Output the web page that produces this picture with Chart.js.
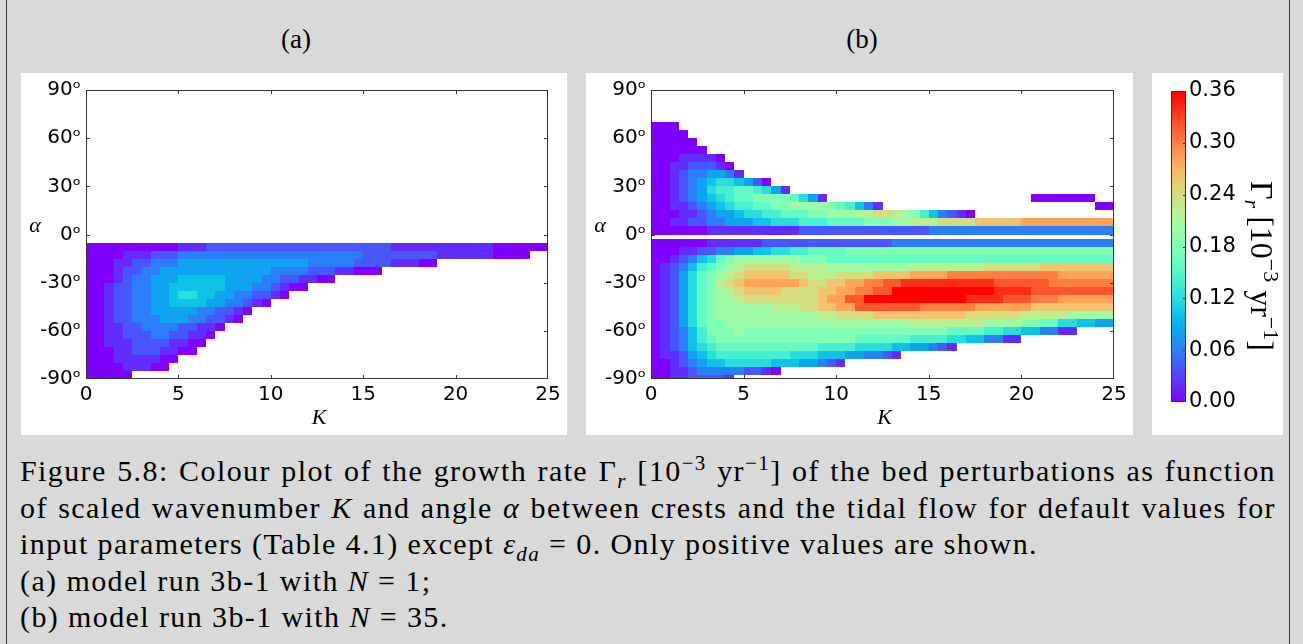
<!DOCTYPE html>
<html>
<head>
<meta charset="utf-8">
<script src="https://cdn.jsdelivr.net/npm/chart.js@4.4.0/dist/chart.umd.min.js"></script>
<style>
  html, body { margin: 0; padding: 0; }
  body { width: 1303px; height: 644px; overflow: hidden; background: #d9d9d9; position: relative; font-family: "Liberation Serif", serif; color: #000; }
  .frame { position: absolute; left: 6px; top: -6px; width: 1282px; height: 670px; border: 1.5px solid #333; }
  .panel { position: absolute; background: #fff; top: 73px; height: 362px; }
  .title { position: absolute; top: 24px; width: 80px; font-size: 27px; line-height: 30px; text-align: center; }
  .caption { position: absolute; left: 20px; top: 453px; width: 1256px; font-size: 30px; line-height: 36.6px; letter-spacing: 1.4px; word-spacing: 0; }
  .caption div { white-space: nowrap; }
  .caption .just { text-align: justify; text-align-last: justify; }
  sub, sup { font-size: 70%; line-height: 0; }
  canvas { position: absolute; top: 0; left: 0; }
</style>
</head>
<body>
<div class="frame"></div>
<div class="title" style="left:256px">(a)</div>
<div class="title" style="left:822px">(b)</div>
<div class="panel" style="left:21px; width:546px"><canvas id="chartA" width="546" height="362"></canvas></div>
<div class="panel" style="left:586px; width:547px"><canvas id="chartB" width="547" height="362"></canvas></div>
<div class="panel" style="left:1152px; width:131px"><canvas id="chartC" width="131" height="362"></canvas></div>
<div class="caption">
  <div class="just">Figure 5.8: Colour plot of the growth rate Γ<sub><i>r</i></sub> [10<sup>−3</sup> yr<sup>−1</sup>] of the bed perturbations as function</div>
  <div class="just">of scaled wavenumber <i>K</i> and angle <i>α</i> between crests and the tidal flow for default values for</div>
  <div>input parameters (Table 4.1) except <i>ε</i><sub><i>da</i></sub> = 0. Only positive values are shown.</div>
  <div>(a) model run 3b-1 with <i>N</i> = 1;</div>
  <div>(b) model run 3b-1 with <i>N</i> = 35.</div>
</div>
<script>
// K column centres (cell width 0.5)
const kCols = [0.25,0.75,1.25,1.75,2.25,2.75,3.25,3.75,4.25,4.75,5.25,5.75,6.25,6.75,7.25,7.75,8.25,8.75,9.25,9.75,
  10.25,10.75,11.25,11.75,12.25,12.75,13.25,13.75,14.25,14.75,15.25,15.75,16.25,16.75,17.25,17.75,18.25,18.75,19.25,19.75,
  20.25,20.75,21.25,21.75,22.25,22.75,23.25,23.75,24.25,24.75];
const kHalf = 0.25;

const xTicks = [0, 5, 10, 15, 20, 25];
const yTicks = [-90, -60, -30, 0, 30, 60, 90];
const cbarTicks = [0, 0.06, 0.12, 0.18, 0.24, 0.30, 0.36];
const vMax = 0.36;
const levelStep = 0.02; // one character = 0.02 (0-9, A-I), '.' = not shown

// row edges in alpha (degrees), top to bottom
const alphaEdgesA = [90,85,80,75,70,65,60,55,50,45,40,35,30,25,20,15,10,5,0,-5,-10,-15,-20,-25,-30,-35,-40,-45,-50,-55,-60,-65,-70,-75,-80,-85,-90];
const alphaEdgesB = [90,85,80,75,70,65,60,55,50,45,40,35,30,25,20,15,10,5,0,-2.5,-7.5,-12.5,-17.5,-22.5,-27.5,-32.5,-37.5,-42.5,-47.5,-52.5,-57.5,-62.5,-67.5,-72.5,-77.5,-82.5,-87.5,-90];

// growth rate, panel (a) N = 1, one string per alpha row
const rowsA = [
  "", "", "", "", "", "", "", "", "", "", "", "", "", "", "", "", "", "", "",
  "00000 00000 11122 22222 22222 22222 22211 11111 11110 00000",
  "00001 11222 33333 33333 33333 33333 22222 22211 11110 000",
  "00011 22333 44444 44444 44443 33332 22211 100",
  "00012 23344 44444 44444 33332 22110 00",
  "00012 33444 55555 44443 32211 00",
  "00122 33445 55555 44433 2100",
  "00122 33445 66554 43322 10",
  "00122 33445 55544 33210",
  "00122 33444 44332 210",
  "00122 33344 43322 10",
  "00112 23333 22110",
  "00112 22332 2110",
  "00111 22221 100",
  "00011 22211 00",
  "00011 11100",
  "00001 1100",
  "00000"
];

// growth rate, panel (b) N = 35
const rowsB = [
  "", "", "", "",
  "000",
  "0000",
  "00000",
  "00000 0",
  "00011 110",
  "00112 2210",
  "00123 34431",
  "00123 45665 420",
  "00123 46778 87641",
  "00123 45678 89999 8641. ..... ..... ..... ..... .0000 000",
  "00112 34567 78899 AAAA9 87531 ..... ..... ..... ..... ...00",
  "00011 23445 66778 8899A AABBC CBA97 53210",
  "00112 23344 45566 67778 88899 9AABB BCCCC DDDDD EEEEE EEEEE",
  "00000 01111 11111 12222 22222 22222 33333 33333 33333 33333",
  "",
  "00000 01111 11222 22222 22222 23333 33333 33333 33333 33333",
  "00011 22334 45566 77888 89999 99999 99999 99999 99999 99999",
  "00123 5689A AAAAA A9998 88888 88888 88888 88888 88888 88888",
  "01235 789AB CCCCC BBBBA AAAAA AAABB BBBBB BCCCC CCDDD DDDDD",
  "01246 89ABC DDDDD CCBBB CCCCD DDDEE EEFFF FFFFF FFFFE EEEEE",
  "01246 89BCD EEEEE EDCCD DEEFF GGHHH HHHHH HHGGG GGGFF FFFFF",
  "01246 89ABC DDDDC CCCDD EEFFG GIIII IIIII IIHHH HGGGG GGGGG",
  "01246 89AAB CCCCC CCCDE EGGII IIIII IIIIH HHHGG GFFFE EEEEE",
  "01246 89AAA AAABB BCCDD EEGGG GGGGF FFFFF EEEEE EDDDD DDDDD",
  "01246 89AAA AAAAA AAABB CCCCD DDDDD DDDDC CCCCC BBBBB AAAAA",
  "01246 899AA AAAAA AAAAA AAAAA AAABB BBBBB BAAAA 99886 65544",
  "01235 7999A 99999 99999 99999 99999 99888 87766 55331 1",
  "01235 78999 99999 99999 99888 88877 77665 53311",
  "01235 67888 88888 88877 77666 65544 321",
  "01124 56777 77777 66655 54433 21",
  "00123 45566 66655 54432 1",
  "00112 33333 2210",
  "00112 2221"
];

// matplotlib 'rainbow' colormap
function rainbow(t) {
  t = Math.max(0, Math.min(1, t));
  const r = Math.min(1, Math.abs(2 * t - 0.5));
  const g = Math.sin(Math.PI * t);
  const b = Math.cos(Math.PI * t / 2);
  return `rgb(${Math.round(r * 255)},${Math.round(g * 255)},${Math.round(b * 255)})`;
}

function toCells(rows, edges) {
  const cells = [];
  rows.forEach((row, r) => {
    const s = row.replace(/ /g, '');
    for (let j = 0; j < s.length; j++) {
      if (s[j] === '.') continue;
      cells.push({ x: kCols[j], y: (edges[r] + edges[r + 1]) / 2, top: edges[r], bot: edges[r + 1], v: parseInt(s[j], 36) * levelStep });
    }
  });
  return cells;
}

const heatmap = {
  id: 'heatmap',
  beforeDatasetsDraw(chart) {
    const { ctx, scales: { x, y } } = chart;
    ctx.save();
    chart.data.datasets[0].data.forEach(c => {
      const x0 = Math.round(x.getPixelForValue(c.x - kHalf));
      const x1 = Math.round(x.getPixelForValue(c.x + kHalf));
      const y0 = Math.round(y.getPixelForValue(c.top));
      const y1 = Math.round(y.getPixelForValue(c.bot));
      ctx.fillStyle = rainbow(c.v / vMax);
      ctx.fillRect(x0, y0, x1 - x0, y1 - y0);
    });
    ctx.restore();
  }
};

const frameDecor = {
  id: 'frameDecor',
  afterDatasetsDraw(chart) {
    const { ctx, chartArea: a, scales: { x, y } } = chart;
    ctx.save();
    ctx.strokeStyle = '#333';
    ctx.lineWidth = 1;
    ctx.beginPath();
    xTicks.slice(1, -1).forEach(v => {
      const px = Math.round(x.getPixelForValue(v)) + 0.5;
      ctx.moveTo(px, a.bottom); ctx.lineTo(px, a.bottom - 4);
      ctx.moveTo(px, a.top); ctx.lineTo(px, a.top + 4);
    });
    yTicks.slice(1, -1).forEach(v => {
      const py = Math.round(y.getPixelForValue(v)) + 0.5;
      ctx.moveTo(a.left, py); ctx.lineTo(a.left + 4, py);
      ctx.moveTo(a.right, py); ctx.lineTo(a.right - 4, py);
    });
    ctx.stroke();
    ctx.strokeRect(a.left + 0.5, a.top + 0.5, a.right - a.left - 1, a.bottom - a.top - 1);
    ctx.fillStyle = '#000';
    ctx.font = 'italic 22px "Liberation Serif"';
    ctx.textAlign = 'center';
    ctx.textBaseline = 'middle';
    ctx.fillText('α', a.left - 51, y.getPixelForValue(0) - 8);
    ctx.fillText('K', (a.left + a.right) / 2 + 2, a.bottom + 39);
    ctx.restore();
  }
};

function heatChart(id, rows, edges) {
  return new Chart(document.getElementById(id), {
    type: 'scatter',
    data: { datasets: [{ data: toCells(rows, edges), pointRadius: 0, pointHoverRadius: 0 }] },
    options: {
      responsive: false,
      animation: false,
      devicePixelRatio: 1,
      events: [],
      layout: { padding: { top: 16, right: 19, left: 0, bottom: 0 } },
      plugins: { legend: { display: false }, tooltip: { enabled: false } },
      scales: {
        x: {
          type: 'linear', min: 0, max: 25,
          afterFit: s => { s.height = 56; },
          afterBuildTicks: s => { s.ticks = xTicks.map(v => ({ value: v })); },
          grid: { display: false, drawTicks: false }, border: { display: false },
          ticks: { color: '#000', font: { family: 'DejaVu Sans', size: 20 }, padding: 4, maxRotation: 0, autoSkip: false }
        },
        y: {
          type: 'linear', min: -90, max: 90,
          afterFit: s => { s.width = 65; },
          afterBuildTicks: s => { s.ticks = yTicks.map(v => ({ value: v })); },
          grid: { display: false, drawTicks: false }, border: { display: false },
          ticks: { color: '#000', font: { family: 'DejaVu Sans', size: 20 }, padding: 5, autoSkip: false, callback: v => v + 'ᵒ' }
        }
      }
    },
    plugins: [heatmap, frameDecor]
  });
}

heatChart('chartA', rowsA, alphaEdgesA);
heatChart('chartB', rowsB, alphaEdgesB);

// colour bar
const colourBar = {
  id: 'colourBar',
  beforeDatasetsDraw(chart) {
    const { ctx, chartArea: a, scales: { y } } = chart;
    ctx.save();
    const g = ctx.createLinearGradient(0, y.getPixelForValue(0), 0, y.getPixelForValue(vMax));
    for (let i = 0; i <= 20; i++) g.addColorStop(i / 20, rainbow(i / 20));
    ctx.fillStyle = g;
    ctx.fillRect(a.left, a.top, a.right - a.left, a.bottom - a.top);
    ctx.strokeStyle = '#333';
    ctx.lineWidth = 1;
    ctx.strokeRect(a.left + 0.5, a.top + 0.5, a.right - a.left - 1, a.bottom - a.top - 1);
    ctx.beginPath();
    cbarTicks.slice(1, -1).forEach(v => {
      const py = Math.round(y.getPixelForValue(v)) + 0.5;
      ctx.moveTo(a.right, py); ctx.lineTo(a.right - 3, py);
    });
    ctx.stroke();
    // rotated label: Γr [10^-3 yr^-1]
    const parts = [
      { t: 'Γ', f: '32px "Liberation Serif"', dy: 0 },
      { t: 'r', f: 'italic 22px "Liberation Serif"', dy: 6 },
      { t: ' [10', f: '32px "Liberation Serif"', dy: 0 },
      { t: '−3', f: '22px "Liberation Serif"', dy: -13 },
      { t: ' yr', f: '32px "Liberation Serif"', dy: 0 },
      { t: '−1', f: '22px "Liberation Serif"', dy: -13 },
      { t: ']', f: '32px "Liberation Serif"', dy: 0 }
    ];
    let total = 0;
    parts.forEach(p => { ctx.font = p.f; p.w = ctx.measureText(p.t).width; total += p.w; });
    ctx.translate(99, 193);
    ctx.rotate(Math.PI / 2);
    ctx.fillStyle = '#000';
    ctx.textBaseline = 'alphabetic';
    let cx = -total / 2;
    parts.forEach(p => { ctx.font = p.f; ctx.fillText(p.t, cx, p.dy); cx += p.w; });
    ctx.restore();
  }
};

new Chart(document.getElementById('chartC'), {
  type: 'scatter',
  data: { datasets: [{ data: [], pointRadius: 0 }] },
  options: {
    responsive: false,
    animation: false,
    devicePixelRatio: 1,
    events: [],
    layout: { padding: { top: 18, right: 0, left: 19, bottom: 33 } },
    plugins: { legend: { display: false }, tooltip: { enabled: false } },
    scales: {
      x: { display: false, min: 0, max: 1 },
      y: {
        position: 'right', min: 0, max: vMax,
        afterFit: s => { s.width = 97; },
        afterBuildTicks: s => { s.ticks = cbarTicks.map(v => ({ value: v })); },
        grid: { display: false, drawTicks: false }, border: { display: false },
        ticks: { color: '#000', font: { family: 'DejaVu Sans', size: 21 }, padding: 3, autoSkip: false, callback: v => v.toFixed(2) }
      }
    }
  },
  plugins: [colourBar]
});
</script>
</body>
</html>
